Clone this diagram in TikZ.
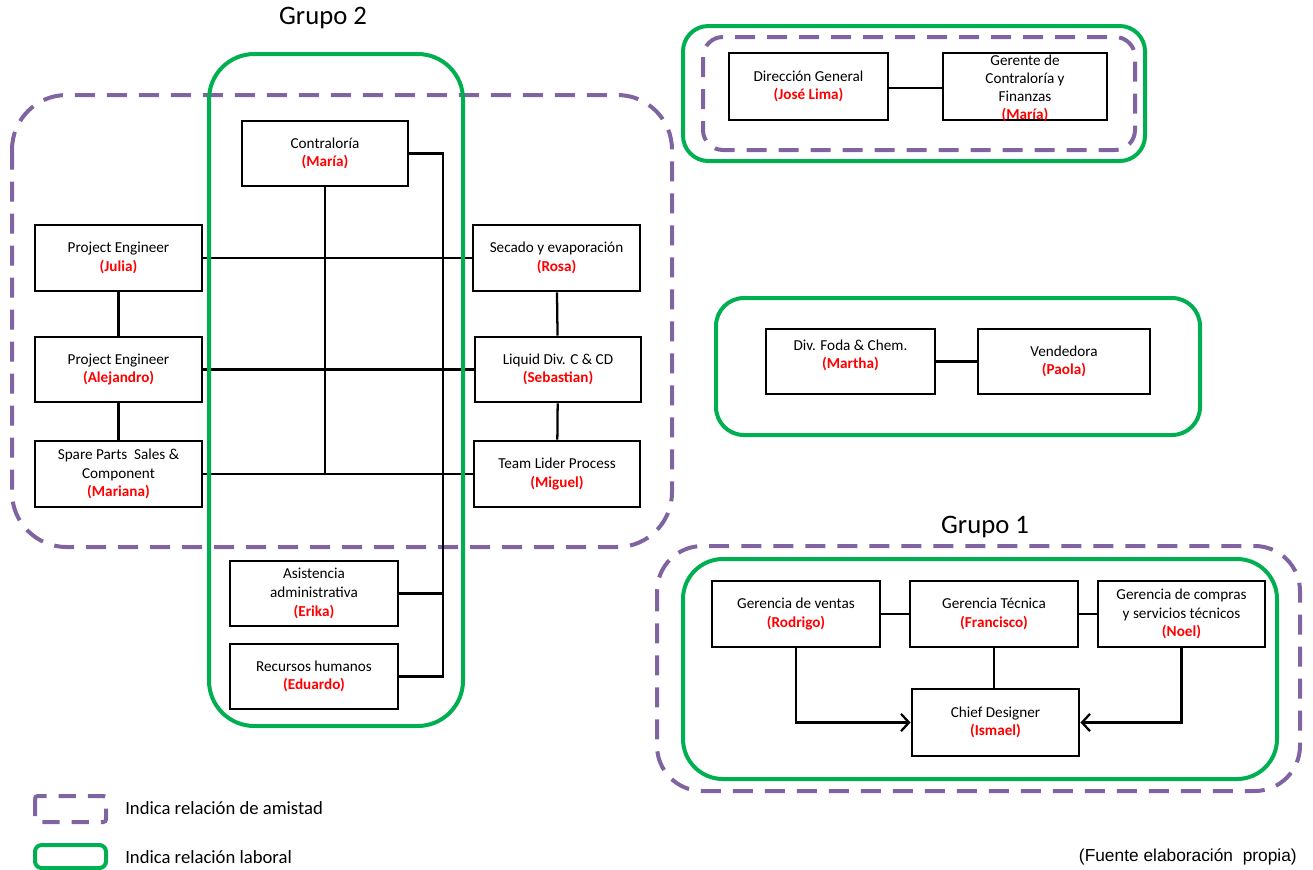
\documentclass[tikz,border=0pt]{standalone}
\usepackage{fontspec}
\setmainfont{Carlito}
\newfontfamily\arialf{Liberation Sans}
\usetikzlibrary{arrows.meta}
\definecolor{pur}{HTML}{8064A2}
\definecolor{grn}{HTML}{00B050}
\newcommand\rname[1]{\textcolor{red}{\bfseries #1}}
\tikzset{
 sz/.style 2 args={minimum width={#1*0.75pt}, minimum height={#2*0.75pt}},
 box/.style={draw=black, line width=2.2pt, fill=white, inner sep=0pt, align=center, font=\fontsize{11.4}{14}\selectfont},
 txt/.style={inner sep=0pt, align=center, font=\fontsize{11.4}{13.4}\selectfont},
 conn/.style={draw=black, line width=1.7pt},
 arr/.style={conn, -{Straight Barb[length=6pt,width=13pt]}},
 friend/.style={draw=pur, line width=3pt, dash pattern=on 15pt off 9pt},
 work/.style={draw=grn, line width=3pt},
 title/.style={font=\fontsize{20}{24}\selectfont, inner sep=0pt},
 legtxt/.style={font=\fontsize{14}{16}\selectfont, inner sep=0pt, anchor=west},
}
\begin{document}
\begin{tikzpicture}[x=0.75pt,y=-0.75pt]
\useasboundingbox (0,0) rectangle (1313,869);

% --- friendship regions
\draw[friend, rounded corners=41pt] (12,95) rectangle (672,547);
\draw[friend, rounded corners=15pt] (703,37) rectangle (1135,150);
\draw[friend, rounded corners=34pt] (657,546) rectangle (1300,791);

% --- Grupo 2 nodes
\node[title] (g2) at (323,18) {Grupo 2};
\node[box, sz={166}{65}] (contra) at (325,153.5) {Contraloría\\\rname{(María)}};
\node[box, sz={167}{66}] (julia) at (118.5,258) {Project Engineer\\\rname{(Julia)}};
\node[box, sz={167}{65}] (alej) at (118.5,369.5) {Project Engineer\\\rname{(Alejandro)}};
\node[box, sz={167}{66}] (spare) at (118.5,474) {Spare Parts\ \ Sales \&\\Component\\\rname{(Mariana)}};
\node[box, sz={167}{66}] (secado) at (556.5,258) {Secado y evaporación\\\rname{(Rosa)}};
\node[box, sz={166}{65}] (liquid) at (558,369.5) {Liquid Div. C \& CD\\\rname{(Sebastian)}};
\node[box, sz={166}{66}] (team) at (557,474) {Team Lider Process\\\rname{(Miguel)}};
\node[box, sz={168}{65}] (asist) at (314,593.5) {Asistencia\\administrativa\\\rname{(Erika)}};
\node[box, sz={168}{65}] (rrhh) at (314,676.5) {Recursos humanos\\\rname{(Eduardo)}};
\coordinate (bus) at (443,0);

% connectors grupo 2
\draw[conn] (julia) -- (secado);
\draw[conn] (alej) -- (liquid);
\draw[conn] (spare) -- (team);
\draw[conn] (contra.south) -- (contra.south |- spare.east);
\draw[conn] (contra.east) -- (contra.east -| bus) |- (rrhh.east);
\draw[conn] (asist.east) -- (asist.east -| bus);
\draw[conn] (julia) -- (alej);
\draw[conn] (alej) -- (spare);
\draw[conn] (secado) -- (liquid);
\draw[conn] (liquid) -- (team);

\draw[work, rounded corners=34pt] (209,54) rectangle (463,726);

% --- top right
\draw[work, rounded corners=19pt] (683,26) rectangle (1145,161);
\node[box, sz={159}{67}] (dir) at (808.5,86.5) {Dirección General\\\rname{(José Lima)}};
\node[box, sz={164}{67}] (ger) at (1025,86.5) {};
\node[txt] (gert) at (1025,88.5) {Gerente de\\Contraloría y\\Finanzas\\\rname{(María)}};
\draw[conn] (dir.east |- 0,88) -- (ger.west |- 0,88);

% --- middle right
\draw[work, rounded corners=21pt] (716,298) rectangle (1200,435);
\node[box, sz={169}{65}] (foda) at (850.5,361.5) {};
\node[txt] (fodat) at (850.5,355) {Div. Foda \& Chem.\\\rname{(Martha)}};
\node[box, sz={172}{65}] (vend) at (1064,361.5) {Vendedora\\\rname{(Paola)}};
\draw[conn] (foda) -- (vend);

% --- Grupo 1
\node[title] (g1) at (985,527) {Grupo 1};
\draw[work, rounded corners=30pt] (683,559) rectangle (1277,779);
\node[box, sz={168}{66}] (ventas) at (796,614) {Gerencia de ventas\\\rname{(Rodrigo)}};
\node[box, sz={168}{66}] (tec) at (994,614) {Gerencia Técnica\\\rname{(Francisco)}};
\node[box, sz={167}{66}] (compras) at (1181.5,614) {Gerencia de compras\\y servicios técnicos\\\rname{(Noel)}};
\node[box, sz={167}{67}] (chief) at (995.5,722.5) {Chief Designer\\\rname{(Ismael)}};
\draw[conn] (ventas) -- (tec);
\draw[conn] (tec) -- (compras);
\draw[conn] (tec.south) -- (tec.south |- chief.north);
\draw[arr] (ventas.south) |- (chief.west);
\draw[arr] (compras.south) |- (chief.east);

% --- legend
\draw[friend, dash pattern=on 13pt off 9pt, rounded corners=2pt] (35,796) rectangle (106,822);
\node[legtxt] (l1) at (125,808) {Indica relación de amistad};
\draw[work, rounded corners=5pt] (35,845) rectangle (106,868);
\node[legtxt] (l2) at (125,857) {Indica relación laboral};
\node[inner sep=0pt, anchor=east, font=\arialf\fontsize{13}{15}\selectfont] (src) at (1297,857) {(Fuente elaboración\ \ propia)};
\end{tikzpicture}
\end{document}
